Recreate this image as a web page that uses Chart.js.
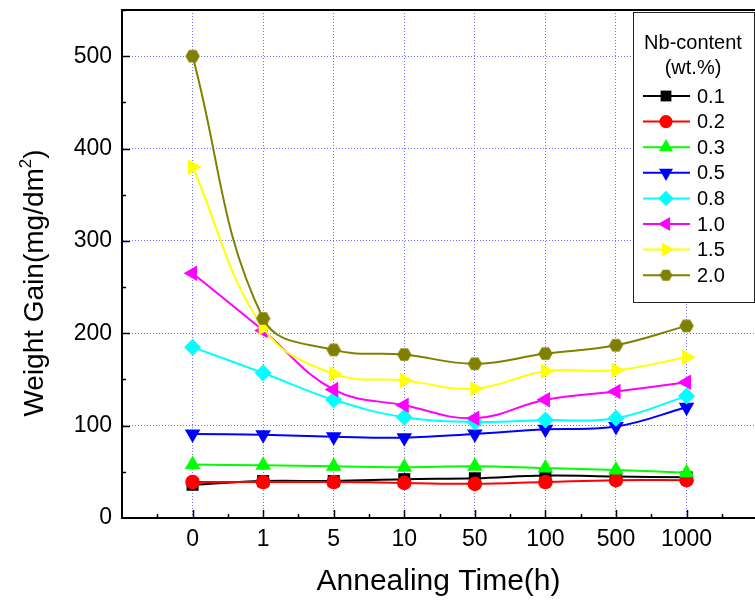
<!DOCTYPE html>
<html><head><meta charset="utf-8">
<script src="https://cdn.jsdelivr.net/npm/chart.js@4/dist/chart.umd.min.js"></script>
<style>html,body{margin:0;padding:0;background:#fff}#wrap{width:755px;height:605px}</style>
</head><body><div id="wrap"><canvas id="c" width="755" height="605"></canvas></div>
<script>
// ---- data ----
const timeLabels = ['0', '1', '5', '10', '50', '100', '500', '1000'];
const yTickValues = [0, 100, 200, 300, 400, 500];
const seriesNames = ['0.1', '0.2', '0.3', '0.5', '0.8', '1.0', '1.5', '2.0'];
const legendTitle = ['Nb-content', '(wt.%)'];
const nb01 = [36, 40, 40, 42, 43, 46, 45, 44];
const nb02 = [39, 39, 39, 38, 37, 39, 41, 41];
const nb03 = [58, 57, 56, 55, 56, 54, 52, 49];
const nb05 = [91, 90, 88, 87, 91, 96, 99, 120];
const nb08 = [185, 157, 128, 109, 104, 106, 108, 132];
const nb10 = [265, 203, 139, 122, 108, 128, 137, 147];
const nb15 = [380, 206, 156, 149, 140, 159, 160, 174];
const nb20 = [500, 216, 182, 177, 167, 178, 187, 208];
const seriesValues = [nb01, nb02, nb03, nb05, nb08, nb10, nb15, nb20];

// ---- styles ----
const FONT = '"Liberation Sans", Arial, sans-serif';
const colors = ['#000000', '#ff0000', '#00ff00', '#0000ff', '#00ffff', '#ff00ff', '#ffff00', '#808000'];
function makeHex(r, color) {
  const c = document.createElement('canvas');
  const s = Math.ceil(2 * r) + 2;
  c.width = s; c.height = s;
  const g = c.getContext('2d');
  g.fillStyle = color;
  g.beginPath();
  for (let k = 0; k < 6; k++) {
    const a = k * Math.PI / 3;
    const px = s / 2 + r * Math.cos(a), py = s / 2 + r * Math.sin(a);
    if (k) g.lineTo(px, py); else g.moveTo(px, py);
  }
  g.closePath(); g.fill();
  return c;
}
const hexImg = makeHex(7.2, '#808000');
const hexImgSmall = makeHex(6.4, '#808000');
const pointStyles = ['rect', 'circle', 'triangle', 'triangle', 'rectRot', 'triangle', 'triangle', hexImg];
const legendStyles = ['rect', 'circle', 'triangle', 'triangle', 'rectRot', 'triangle', 'triangle', hexImgSmall];
const rotations = [0, 0, 0, 180, 0, -90, 90, 0];
const radii = [8.5, 7.3, 9, 9, 8.5, 9, 9, 7];

const datasets = seriesValues.map((vals, i) => ({
  label: seriesNames[i],
  data: vals.map((v, k) => ({ x: k, y: v })),
  borderColor: colors[i],
  backgroundColor: colors[i],
  borderWidth: 2,
  tension: 0.4,
  pointStyle: pointStyles[i],
  pointRotation: rotations[i],
  pointRadius: radii[i],
  pointBorderWidth: 0,
  pointBackgroundColor: colors[i],
  order: seriesValues.length - i
}));

const GRID = 'rgba(80,80,255,0.8)';

const framePlugin = {
  id: 'frame',
  afterDatasetsDraw(chart) {
    const { ctx, chartArea: a, scales: { x, y } } = chart;
    ctx.save();
    ctx.strokeStyle = '#000';
    ctx.lineWidth = 2;
    // top frame line
    ctx.beginPath(); ctx.moveTo(a.left - 1, a.top); ctx.lineTo(a.right, a.top); ctx.stroke();
    ctx.lineWidth = 1.5;
    // inward ticks on x
    for (let k = -0.5; k <= 7.5; k += 0.5) {
      if (k < x.min || k > x.max) continue;
      const px = Math.round(x.getPixelForValue(k)) + 0.5;
      const len = Number.isInteger(k) ? 8 : 4;
      ctx.beginPath(); ctx.moveTo(px, a.bottom); ctx.lineTo(px, a.bottom - len); ctx.stroke();
    }
    // inward ticks on y
    for (let v = 50; v <= 550; v += 50) {
      const py = Math.round(y.getPixelForValue(v)) + 0.5;
      const len = v % 100 === 0 ? 8 : 4;
      ctx.beginPath(); ctx.moveTo(a.left, py); ctx.lineTo(a.left + len, py); ctx.stroke();
    }
    ctx.restore();
  },
  afterDraw(chart) {
    const { ctx } = chart;
    ctx.save();
    // y title with superscript
    const main = 'Weight Gain(mg/dm', sup = '2', tail = ')';
    const fMain = '28px ' + FONT, fSup = '17px ' + FONT;
    ctx.font = fMain; const w1 = ctx.measureText(main).width; const w3 = ctx.measureText(tail).width;
    ctx.font = fSup; const w2 = ctx.measureText(sup).width;
    const total = w1 + w2 + w3;
    ctx.translate(43, 283);
    ctx.rotate(-Math.PI / 2);
    ctx.fillStyle = '#000';
    ctx.textBaseline = 'alphabetic';
    ctx.textAlign = 'left';
    let sx = -total / 2;
    ctx.font = fMain; ctx.fillText(main, sx, 0); sx += w1;
    ctx.font = fSup; ctx.fillText(sup, sx, -12); sx += w2;
    ctx.font = fMain; ctx.fillText(tail, sx, 0);
    ctx.restore();

    // legend box
    ctx.save();
    const x0 = 633, y0 = 12, w = 121, h = 290;
    ctx.fillStyle = '#fff'; ctx.fillRect(x0, y0, w, h);
    ctx.strokeStyle = '#222'; ctx.lineWidth = 1; ctx.strokeRect(x0 + 0.5, y0 + 0.5, w, h);
    ctx.fillStyle = '#000'; ctx.font = '20px ' + FONT;
    ctx.textAlign = 'center'; ctx.textBaseline = 'middle';
    ctx.fillText(legendTitle[0], 693, 43);
    ctx.fillText(legendTitle[1], 693, 68);
    ctx.textAlign = 'left';
    chart.data.datasets.forEach((ds, i) => {
      const yy = 96 + i * 25.6;
      ctx.strokeStyle = ds.borderColor; ctx.lineWidth = 2;
      ctx.beginPath(); ctx.moveTo(643, yy); ctx.lineTo(690, yy); ctx.stroke();
      ctx.fillStyle = ds.backgroundColor;
      Chart.helpers.drawPoint(ctx, { pointStyle: legendStyles[i], rotation: rotations[i], radius: radii[i] * 0.9, borderWidth: 0 }, 666, yy);
      ctx.fillStyle = '#000';
      ctx.fillText(ds.label, 697, yy + 1);
    });
    ctx.restore();
  }
};

new Chart(document.getElementById('c'), {
  type: 'line',
  data: { datasets },
  options: {
    responsive: false,
    animation: false,
    devicePixelRatio: 1,
    layout: { autoPadding: false, padding: { left: 0, right: 0, top: 10, bottom: 0 } },
    plugins: { legend: { display: false }, tooltip: { enabled: false } },
    scales: {
      x: {
        type: 'linear', min: -1, max: 7.97,
        afterBuildTicks: s => { s.ticks = timeLabels.map((_, i) => ({ value: i })); },
        afterFit: s => { s.height = 87; s.paddingLeft = 0; s.paddingRight = 0; },
        ticks: {
          callback: v => timeLabels[v],
          font: { size: 23, family: FONT }, color: '#000', padding: 8,
          maxRotation: 0, autoSkip: false
        },
        grid: { color: GRID, lineWidth: 1, drawTicks: false },
        border: { display: true, color: '#000', width: 2, dash: [1, 2] },
        title: { display: true, text: 'Annealing Time(h)', font: { size: 30, family: FONT }, color: '#000', padding: { top: 0, bottom: 5 } }
      },
      y: {
        min: 0, max: 550,
        afterBuildTicks: s => { s.ticks = yTickValues.map(v => ({ value: v })); },
        afterFit: s => { s.width = 122; s.paddingTop = 0; s.paddingBottom = 0; },
        ticks: { font: { size: 23, family: FONT }, color: '#000', padding: 10 },
        grid: { color: c => (c.tick && c.tick.value === 0) ? 'rgba(0,0,0,0)' : GRID, lineWidth: 1, drawTicks: false },
        border: { display: true, color: '#000', width: 2, dash: [1, 2] }
      }
    }
  },
  plugins: [framePlugin]
});
</script>
</body></html>
